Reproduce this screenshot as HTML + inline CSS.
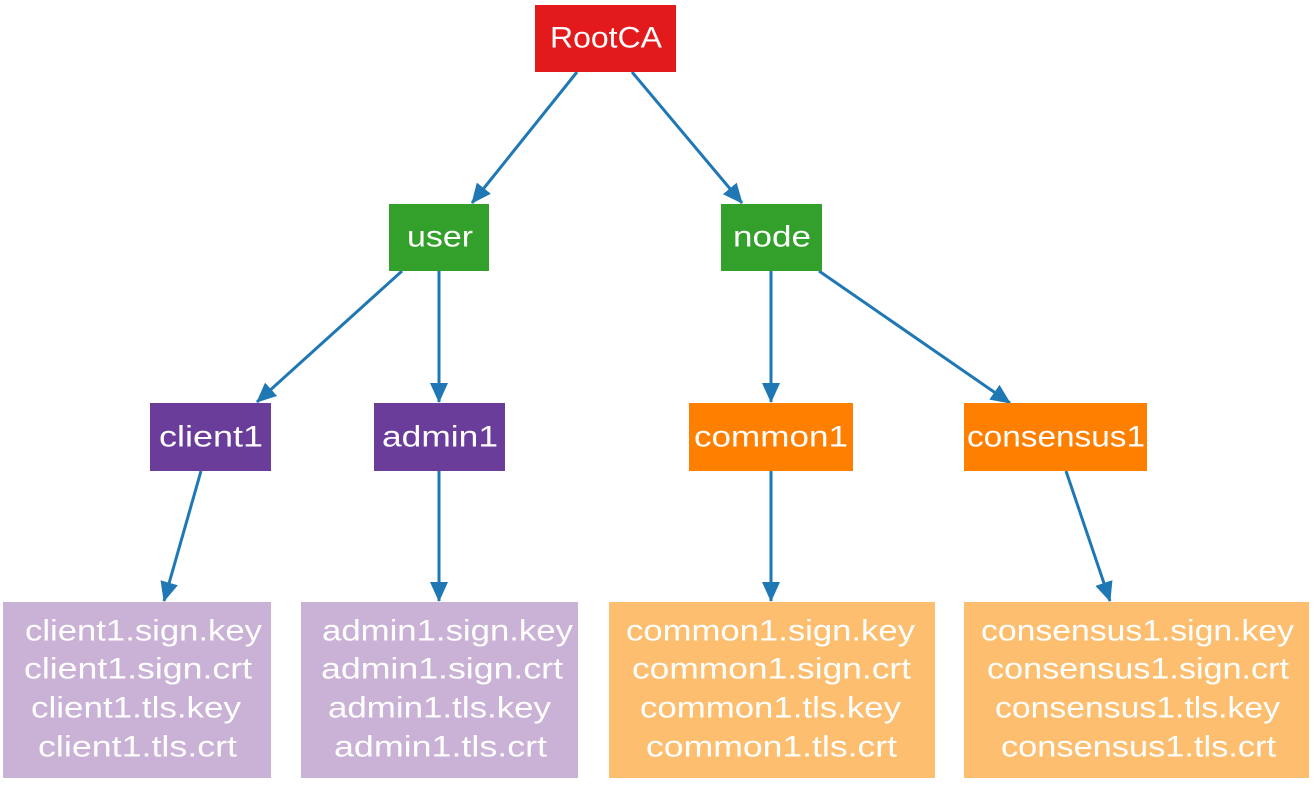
<!DOCTYPE html>
<html><head><meta charset="utf-8"><style>
html,body{margin:0;padding:0;background:#fff;}
svg text{font-family:"Liberation Sans",sans-serif;fill:#fff;font-size:30px;text-anchor:middle;dominant-baseline:central;}
</style></head><body>
<svg width="1314" height="783" viewBox="0 0 1314 783" xmlns="http://www.w3.org/2000/svg">
<defs>
<marker id="b" markerWidth="20" markerHeight="18" refX="19" refY="9" orient="auto" markerUnits="userSpaceOnUse"><path d="M0,0 L20,9 L0,18 z" fill="#1f78b4"/></marker></defs>
<g stroke="#1f78b4" stroke-width="3" fill="none" marker-end="url(#b)">
<line x1="577" y1="72" x2="472" y2="203"/>
<line x1="632" y1="72" x2="742" y2="203"/>
<line x1="402" y1="271" x2="257" y2="402"/>
<line x1="439" y1="271" x2="439" y2="402"/>
<line x1="771" y1="271" x2="771" y2="402"/>
<line x1="819" y1="271" x2="1010" y2="403"/>
<line x1="201" y1="471" x2="164" y2="601"/>
<line x1="439" y1="471" x2="439" y2="601"/>
<line x1="771" y1="471" x2="771" y2="601"/>
<line x1="1066" y1="471" x2="1110" y2="601"/>
</g>
<g lengthAdjust="spacingAndGlyphs">
<rect x="535" y="5" width="141" height="67" fill="#e31a1c"/><text x="606" y="38" textLength="112" lengthAdjust="spacingAndGlyphs">RootCA</text>
<rect x="389" y="204" width="100" height="67" fill="#33a02c"/><text x="440" y="237" textLength="66" lengthAdjust="spacingAndGlyphs">user</text>
<rect x="721" y="204" width="101" height="67" fill="#33a02c"/><text x="772" y="237" textLength="78" lengthAdjust="spacingAndGlyphs">node</text>
<rect x="150" y="403" width="121" height="68" fill="#6a3d9a"/><text x="211" y="437" textLength="104" lengthAdjust="spacingAndGlyphs">client1</text>
<rect x="374" y="403" width="131" height="68" fill="#6a3d9a"/><text x="440" y="437" textLength="116" lengthAdjust="spacingAndGlyphs">admin1</text>
<rect x="689" y="403" width="164" height="68" fill="#ff7f00"/><text x="771" y="437" textLength="154" lengthAdjust="spacingAndGlyphs">common1</text>
<rect x="964" y="403" width="183" height="68" fill="#ff7f00"/><text x="1056" y="437" textLength="178" lengthAdjust="spacingAndGlyphs">consensus1</text>
<rect x="3" y="602" width="268" height="176" fill="#cab2d6"/>
<text x="143.5" y="631" textLength="237" lengthAdjust="spacingAndGlyphs">client1.sign.key</text><text x="138" y="669" textLength="228" lengthAdjust="spacingAndGlyphs">client1.sign.crt</text><text x="136" y="708" textLength="210" lengthAdjust="spacingAndGlyphs">client1.tls.key</text><text x="137.5" y="747" textLength="199" lengthAdjust="spacingAndGlyphs">client1.tls.crt</text>
<rect x="301" y="602" width="277" height="176" fill="#cab2d6"/>
<text x="447.5" y="631" textLength="251" lengthAdjust="spacingAndGlyphs">admin1.sign.key</text><text x="442" y="669" textLength="242" lengthAdjust="spacingAndGlyphs">admin1.sign.crt</text><text x="439.5" y="708" textLength="223" lengthAdjust="spacingAndGlyphs">admin1.tls.key</text><text x="440.5" y="747" textLength="213" lengthAdjust="spacingAndGlyphs">admin1.tls.crt</text>
<rect x="609" y="602" width="326" height="176" fill="#fdbf6f"/>
<text x="770.5" y="631" textLength="289" lengthAdjust="spacingAndGlyphs">common1.sign.key</text><text x="771.5" y="669" textLength="279" lengthAdjust="spacingAndGlyphs">common1.sign.crt</text><text x="770.5" y="708" textLength="261" lengthAdjust="spacingAndGlyphs">common1.tls.key</text><text x="771.5" y="747" textLength="251" lengthAdjust="spacingAndGlyphs">common1.tls.crt</text>
<rect x="964" y="602" width="345" height="176" fill="#fdbf6f"/>
<text x="1137.5" y="631" textLength="313" lengthAdjust="spacingAndGlyphs">consensus1.sign.key</text><text x="1138" y="669" textLength="302" lengthAdjust="spacingAndGlyphs">consensus1.sign.crt</text><text x="1137.5" y="708" textLength="285" lengthAdjust="spacingAndGlyphs">consensus1.tls.key</text><text x="1138.5" y="747" textLength="275" lengthAdjust="spacingAndGlyphs">consensus1.tls.crt</text>
</g>
</svg>
</body></html>
